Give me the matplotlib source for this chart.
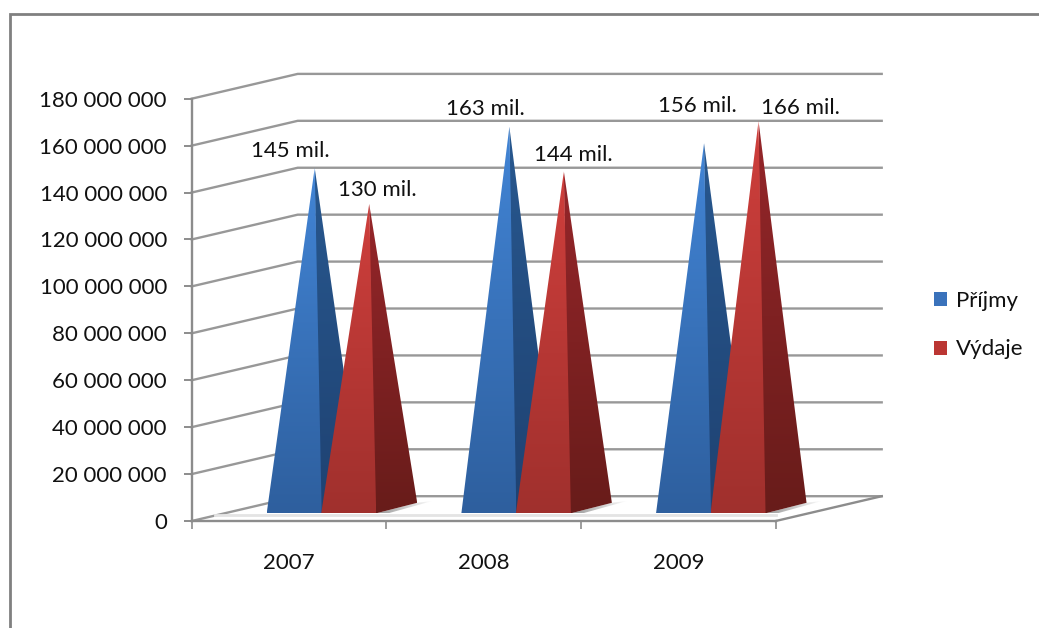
import numpy as np
import matplotlib
matplotlib.use('Agg')
import matplotlib.pyplot as plt
from matplotlib.colors import to_rgb
from matplotlib.lines import Line2D
from matplotlib.patches import Patch, Polygon

plt.rcParams['font.family'] = ['Lato', 'DejaVu Sans']

# Data
years = ['2007', '2008', '2009']
prijmy = [145e6, 162.5e6, 155.5e6]
vydaje = [129.6e6, 143.5e6, 165e6]
prijmy_labels = ['145 mil.', '163 mil.', '156 mil.']
vydaje_labels = ['130 mil.', '144 mil.', '166 mil.']
y_ticks = [0, 20e6, 40e6, 60e6, 80e6, 100e6, 120e6, 140e6, 160e6, 180e6]

W, H = 1039, 628
X0, X1 = 191.7, 775.7   # front plane of the chart, pixels
Y0, Y1 = 521.0, 98.7
px_x = 3 / (X1 - X0)    # one pixel in category units
px_y = 180e6 / (Y0 - Y1)  # one pixel in value units
FONT = 16

fig = plt.figure(figsize=(W / 100, H / 100), dpi=100, facecolor='white')
ax = fig.add_axes([X0 / W, 1 - Y0 / H, (X1 - X0) / W, (Y0 - Y1) / H])
ax.set_facecolor('none')

# Depth of the "3D" box
dx = 106 * px_x
dy = 24.8 * px_y

# Walls and floor lines
for v in y_ticks:
    ax.plot([0, dx, 3 + dx], [v, v + dy, v + dy], color='#989898', lw=1.7,
            clip_on=False, zorder=1, solid_joinstyle='miter')
ax.plot([3, 3 + dx], [0, dy], color='#8c8c8c', lw=1.7, clip_on=False, zorder=1)
ax.plot([0.12, 3], [2.6e6, 2.6e6], color='#e4e4e4', lw=2, clip_on=False, zorder=1)


def gradient_face(pts, top_color, bottom_color, zorder):
    pts = np.array(pts)
    c1 = np.array(to_rgb(top_color))
    c2 = np.array(to_rgb(bottom_color))
    t = np.linspace(0, 1, 256)[:, None]
    img = (c1 * (1 - t) + c2 * t)[:, None, :]
    ext = [pts[:, 0].min(), pts[:, 0].max(), pts[:, 1].min(), pts[:, 1].max()]
    im = ax.imshow(img, extent=ext, aspect='auto', origin='upper', zorder=zorder,
                   interpolation='bilinear')
    im.set_clip_box(fig.bbox)
    im.set_clip_path(Polygon(pts, closed=True, transform=ax.transData))


def floor_shadow(pts, zorder):
    pts = np.array(pts)
    rgba = np.ones((1, 256, 4)) * 0.45
    rgba[0, :, 3] = np.linspace(0.75, 0, 256)
    ext = [pts[:, 0].min(), pts[:, 0].max(), pts[:, 1].min(), pts[:, 1].max()]
    im = ax.imshow(rgba, extent=ext, aspect='auto', zorder=zorder, interpolation='bilinear')
    im.set_clip_box(fig.bbox)
    im.set_clip_path(Polygon(pts, closed=True, transform=ax.transData))


def pyramid(left, value, colors, zorder):
    width = 55 * px_x
    depth_x = 41 * px_x
    depth_y = 10.5 * px_y
    base = 7.7 * px_y
    fl = (left, base)
    fr = (left + width, base)
    br = (left + width + depth_x, base + depth_y)
    apex = (left + width / 2 + depth_x / 2, base + depth_y / 2 + value)
    floor_shadow([fr, br, (br[0] + 16 * px_x, br[1] + 2 * px_y), (fr[0] + 12 * px_x, base)], zorder)
    # the side face runs a little under the front one, so no seam shows between them
    under = (fr[0] - 3 * px_x, base)
    gradient_face([under, fr, br, apex], colors[2], colors[3], zorder + 0.1)
    gradient_face([fl, fr, apex], colors[0], colors[1], zorder + 0.2)
    return apex


blue = ['#4285d6', '#2e5f9e', '#28588f', '#1f4272']
red = ['#cf3f3c', '#a0302d', '#96262a', '#681c1a']

offset_p = [(-24, 17), (-24, 18), (-7, 37)]
offset_v = [(8, 14), (9, 16), (42, 13)]

for i in range(len(years)):
    left = i + 75 * px_x
    a1 = pyramid(left, prijmy[i], blue, 3 + i)
    a2 = pyramid(left + 54.5 * px_x, vydaje[i], red, 3.5 + i)
    ax.annotate(prijmy_labels[i], a1, xytext=(offset_p[i][0] * 0.72, offset_p[i][1] * 0.72),
                textcoords='offset points', ha='center', va='center', fontsize=FONT,
                color='#111111', annotation_clip=False, zorder=10)
    ax.annotate(vydaje_labels[i], a2, xytext=(offset_v[i][0] * 0.72, offset_v[i][1] * 0.72),
                textcoords='offset points', ha='center', va='center', fontsize=FONT,
                color='#111111', annotation_clip=False, zorder=10)

ax.set_xlim(0, 3)
ax.set_ylim(0, 180e6)

# Axes
for s in ['top', 'right']:
    ax.spines[s].set_visible(False)
for s in ['left', 'bottom']:
    ax.spines[s].set_color('#8c8c8c')
    ax.spines[s].set_linewidth(1.7)
    ax.spines[s].set_zorder(2)

ax.set_yticks(y_ticks)
ax.set_yticklabels([f'{int(v):,}'.replace(',', ' ') for v in y_ticks], fontsize=FONT, color='#111111')
ax.tick_params(axis='y', length=5.8, width=1.4, color='#8c8c8c', pad=12)

ax.set_xticks([0, 1, 2, 3])
ax.set_xticklabels([])
ax.set_xticks([0.5, 1.5, 2.5], minor=True)
ax.set_xticklabels(years, minor=True, fontsize=FONT, color='#111111')
ax.tick_params(axis='x', which='major', length=5.8, width=1.2, color='#8c8c8c')
ax.tick_params(axis='x', which='minor', length=0, pad=23)

# Legend
handles = [Patch(facecolor='#3a72bb', label='Příjmy'), Patch(facecolor='#bb3633', label='Výdaje')]
fig.legend(handles=handles, loc='center left', bbox_to_anchor=(914 / W, 1 - 325 / H), frameon=False,
           fontsize=FONT, handlelength=0.6, handleheight=0.6, handletextpad=0.4,
           labelspacing=1.3, labelcolor='#111111')

# Frame of the original picture, only top and left are visible
fig.add_artist(Line2D([9.5 / W, 9.5 / W, 1], [0, 1 - 14 / H, 1 - 14 / H], color='#808080', lw=2,
                      transform=fig.transFigure, solid_joinstyle='miter'))

fig.savefig('out.png', dpi=100)
